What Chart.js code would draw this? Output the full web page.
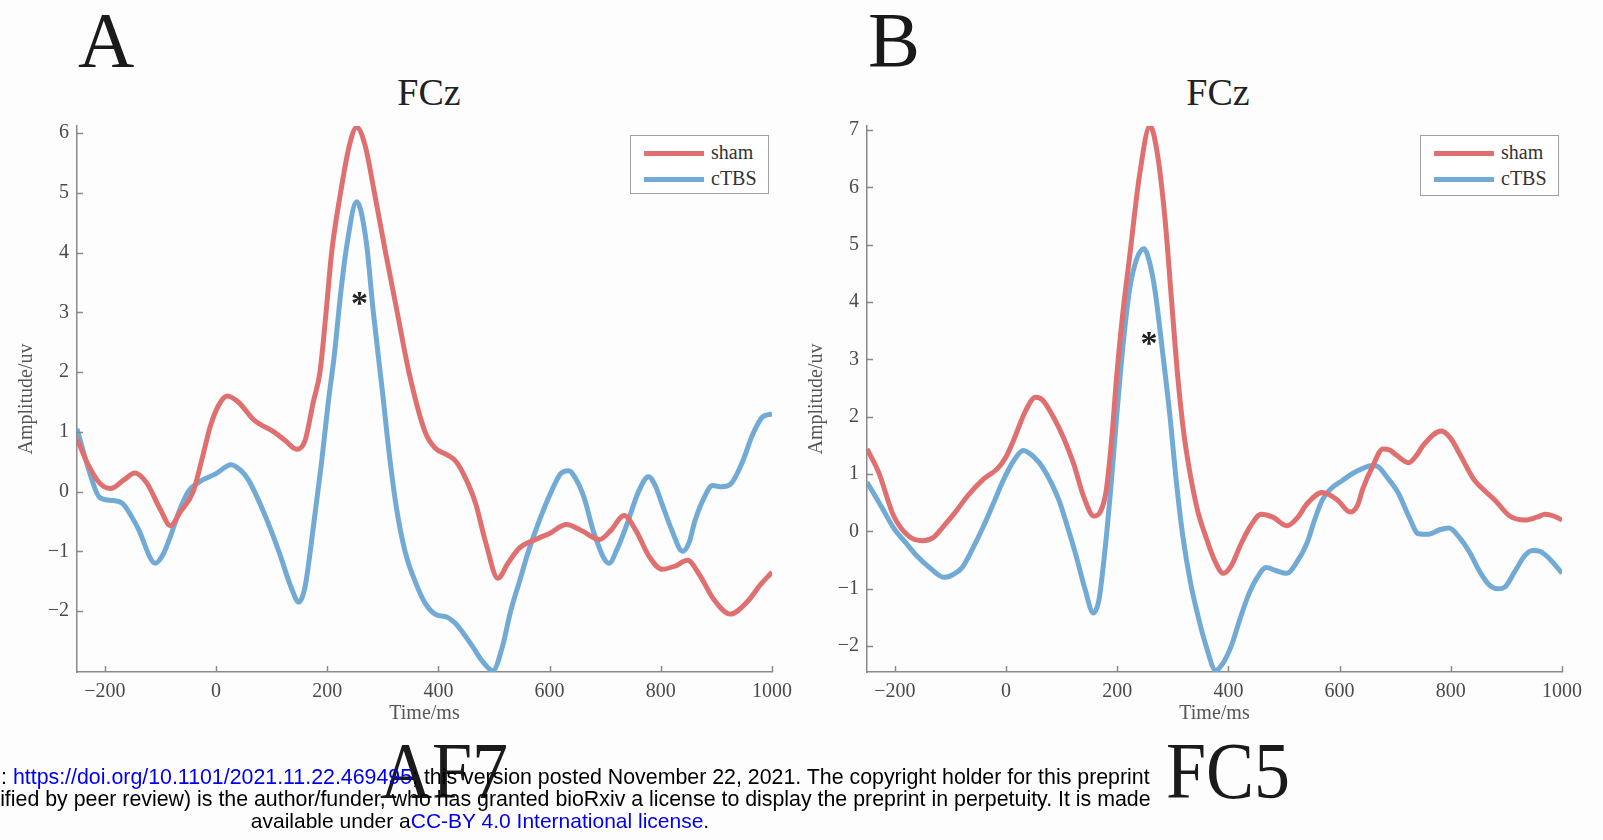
<!DOCTYPE html>
<html>
<head>
<meta charset="utf-8">
<script src="https://cdn.jsdelivr.net/npm/chart.js@4.4.0/dist/chart.umd.min.js"></script>
<style>
  body { margin: 0; width: 1603px; height: 840px; background: #fdfdfd; position: relative; overflow: hidden; font-family: "Liberation Serif", serif; }
  .panel { position: absolute; top: 100px; width: 800px; height: 642px; }
  .lbl { position: absolute; line-height: 1; color: #1a1a1a; white-space: nowrap; }
  .big { font-size: 78px; }
  .low { font-size: 80px; transform: translateX(-50%) scaleX(0.9); }
  .sub { font-size: 38px; transform: translateX(-50%); color: #222; }
  .legend { position: absolute; border: 1.5px solid #a0a0a0; background: #fff; box-sizing: border-box; }
  .legend div { position: absolute; left: 13px; height: 0; }
  .legend span.sw { position: absolute; left: 0; width: 60px; height: 5px; top: -2.5px; }
  .legend span.tx { position: absolute; left: 67px; top: -12px; font-size: 20px; line-height: 22px; color: #333; }
  .star { position: absolute; font-size: 34px; font-weight: bold; line-height: 1; color: #222; transform: translate(-50%, -30%); }
  .foot { position: absolute; left: -240px; width: 1440px; top: 766px; text-align: center; font-family: "Liberation Sans", Arial, sans-serif; font-size: 21px; line-height: 22px; color: #000; white-space: nowrap; }
  .foot .ancho { font-size: 21.35px; position: relative; left: 4px; }
  .foot a { color: #0000ee; text-decoration: none; }
</style>
</head>
<body>
<div class="lbl big" style="left:78px; top:1px;">A</div>
<div class="lbl big" style="left:868px; top:1px;">B</div>
<div class="lbl sub" style="left:429px; top:73px;">FCz</div>
<div class="lbl sub" style="left:1218px; top:73px;">FCz</div>

<div class="panel" id="wrapA" style="left:0px;"><canvas id="chartA" width="800" height="642"></canvas></div>
<div class="panel" id="wrapB" style="left:790px;"><canvas id="chartB" width="800" height="642"></canvas></div>

<div class="lbl low" style="left:444px; top:731px;">AF7</div>
<div class="lbl low" style="left:1228px; top:731px;">FC5</div>

<div class="foot">
  <span class="ancho">bioRxiv preprint doi: <a>https://doi.org/10.1101/2021.11.22.469495</a>; this version posted November 22, 2021. The copyright holder for this preprint</span><br>
  <span class="ancho">(which was not certified by peer review) is the author/funder, who has granted bioRxiv a license to display the preprint in perpetuity. It is made</span><br>
  available under a<a>CC-BY 4.0 International license</a>.
</div>

<script>
// tick labels
const xTicks = [-200, 0, 200, 400, 600, 800, 1000];
const yTicksA = [-2, -1, 0, 1, 2, 3, 4, 5, 6];
const yTicksB = [-2, -1, 0, 1, 2, 3, 4, 5, 6, 7];
const seriesNames = ['sham', 'cTBS'];

// Panel A (AF7) - sham
const timeShamA = [-250, -230, -210, -190, -165, -146, -125, -100, -82, -65, -41, -25, -10, 5, 20, 40, 68, 104, 125, 145,
  160, 175, 187, 198, 208, 224, 240, 253, 268, 285, 305, 326, 347, 376, 395, 415, 432, 450, 467, 485, 507, 525, 545,
  575, 600, 630, 657, 690, 710, 734, 755, 780, 802, 825, 848, 870, 895, 925, 955, 980, 1000];
const shamA = [0.88, 0.45, 0.15, 0.05, 0.2, 0.31, 0.15, -0.3, -0.57, -0.35, 0.0, 0.55, 1.1, 1.45, 1.6, 1.5, 1.2, 1.0, 0.85, 0.71,
  0.85, 1.5, 2.0, 3.0, 4.0, 5.0, 5.8, 6.1, 5.8, 5.0, 4.0, 3.0, 2.0, 1.0, 0.72, 0.62, 0.5, 0.2, -0.2, -0.85, -1.45, -1.2, -0.95,
  -0.8, -0.7, -0.55, -0.65, -0.8, -0.65, -0.4, -0.65, -1.1, -1.3, -1.25, -1.15, -1.4, -1.8, -2.05, -1.85, -1.55, -1.35];

// Panel A (AF7) - cTBS
const timeCtbsA = [-250, -230, -209, -185, -168, -141, -109, -95, -82, -65, -50, -32, 0, 27, 45, 58, 86, 113, 135, 149,
  160, 175, 190, 202, 213, 224, 235, 253, 270, 283, 299, 312, 325, 340, 358, 375, 394, 415, 430, 447, 462, 480, 498,
  515, 530, 546, 562, 583, 603, 620, 634, 648, 662, 680, 707, 722, 739, 760, 778, 790, 802, 820, 839, 851, 861, 878,
  893, 910, 925, 947, 965, 983, 1000];
const ctbsA = [1.05, 0.4, -0.1, -0.15, -0.2, -0.6, -1.2, -1.05, -0.75, -0.3, 0.0, 0.15, 0.3, 0.45, 0.35, 0.2, -0.35, -1.0, -1.6, -1.85,
  -1.6, -0.6, 0.5, 1.5, 2.3, 3.3, 4.1, 4.85, 4.2, 3.0, 1.7, 0.6, -0.3, -1.0, -1.5, -1.85, -2.05, -2.1, -2.2, -2.4, -2.6, -2.85, -3.0,
  -2.6, -2.0, -1.5, -1.0, -0.45, 0.0, 0.3, 0.35, 0.2, -0.1, -0.7, -1.2, -0.95, -0.55, 0.0, 0.25, 0.1, -0.2, -0.65, -1.0, -0.85, -0.5, -0.1,
  0.1, 0.08, 0.12, 0.5, 0.95, 1.25, 1.3];

// Panel B (FC5) - sham
const timeShamB = [-250, -229, -202, -175, -150, -130, -115, -90, -70, -42, -15, 0, 14, 35, 53, 65, 85, 105, 122, 140,
  158, 170, 180, 190, 199, 210, 222, 240, 259, 272, 286, 298, 309, 320, 332, 345, 359, 375, 391, 405, 423, 440, 459,
  480, 505, 525, 541, 569, 596, 619, 632, 642, 660, 678, 690, 701, 724, 740, 751, 783, 800, 815, 842, 860, 879, 906,
  933, 955, 970, 985, 1000];
const shamB = [1.44, 1.03, 0.27, -0.08, -0.16, -0.1, 0.06, 0.35, 0.61, 0.9, 1.1, 1.3, 1.6, 2.1, 2.34, 2.3, 2.0, 1.6, 1.17, 0.6,
  0.27, 0.35, 0.7, 1.6, 2.7, 3.8, 4.76, 6.2, 7.07, 6.6, 5.45, 4.0, 2.69, 1.7, 0.96, 0.35, -0.08, -0.5, -0.73, -0.6, -0.21, 0.1, 0.3,
  0.25, 0.1, 0.25, 0.48, 0.68, 0.55, 0.34, 0.45, 0.75, 1.15, 1.44, 1.42, 1.34, 1.2, 1.35, 1.51, 1.75, 1.62, 1.37, 0.9, 0.72, 0.55, 0.27,
  0.2, 0.25, 0.3, 0.27, 0.2];

// Panel B (FC5) - cTBS
const timeCtbsB = [-250, -225, -202, -180, -161, -135, -111, -95, -79, -60, -42, -20, -5, 15, 31, 50, 67, 95, 110, 126,
  142, 157, 167, 177, 188, 199, 210, 222, 235, 248, 258, 268, 282, 295, 306, 318, 332, 345, 360, 377, 390, 405, 420,
  436, 452, 468, 485, 505, 522, 541, 555, 569, 585, 605, 625, 642, 658, 669, 685, 705, 725, 742, 760, 780, 797, 815,
  833, 852, 870, 885, 897, 915, 933, 947, 961, 980, 1000];
const ctbsB = [0.86, 0.45, 0.06, -0.2, -0.42, -0.65, -0.8, -0.75, -0.63, -0.3, 0.06, 0.55, 0.89, 1.25, 1.41, 1.3, 1.1, 0.55, 0.1, -0.42,
  -1.0, -1.42, -1.2, -0.42, 0.7, 2.0, 3.2, 4.2, 4.75, 4.93, 4.7, 4.2, 3.1, 2.0, 0.9, -0.08, -0.9, -1.46, -2.0, -2.42, -2.3, -2.0, -1.55,
  -1.11, -0.8, -0.63, -0.68, -0.73, -0.55, -0.21, 0.2, 0.55, 0.75, 0.89, 1.02, 1.1, 1.15, 1.13, 0.95, 0.68, 0.25, -0.04, -0.05, 0.03, 0.06, -0.1,
  -0.35, -0.7, -0.94, -1.0, -0.97, -0.7, -0.42, -0.33, -0.35, -0.5, -0.73];

const colores = ['#e07070', '#72aad6'];
const serif = 'Liberation Serif';

function aPuntos(tiempos, valores) {
  return tiempos.map((t, i) => ({ x: t, y: valores[i] }));
}

// ticks hacia dentro, estilo MATLAB
const ticksInternos = {
  id: 'ticksInternos',
  afterDraw(chart) {
    const { ctx, chartArea, scales: { x, y } } = chart;
    ctx.save();
    ctx.strokeStyle = '#8a8a8a';
    ctx.lineWidth = 1.5;
    ctx.beginPath();
    x.ticks.forEach(t => {
      const px = Math.round(x.getPixelForValue(t.value)) + 0.5;
      ctx.moveTo(px, chartArea.bottom);
      ctx.lineTo(px, chartArea.bottom - 6);
    });
    y.ticks.forEach(t => {
      const py = Math.round(y.getPixelForValue(t.value)) + 0.5;
      ctx.moveTo(chartArea.left, py);
      ctx.lineTo(chartArea.left + 6, py);
    });
    ctx.stroke();
    ctx.restore();
  }
};

function crearLeyenda(wrap, left, top, w, h) {
  const box = document.createElement('div');
  box.className = 'legend';
  box.style.left = left + 'px';
  box.style.top = top + 'px';
  box.style.width = w + 'px';
  box.style.height = h + 'px';
  seriesNames.forEach((nombre, i) => {
    const fila = document.createElement('div');
    fila.style.top = (17 + i * 26) + 'px';
    fila.innerHTML = `<span class="sw" style="background:${colores[i]}"></span><span class="tx">${nombre}</span>`;
    box.appendChild(fila);
  });
  wrap.appendChild(box);
}

function crearPanel(id, wrapId, sham, ctbs, yMin, yMax, yTicks, estrella) {
  const wrap = document.getElementById(wrapId);
  const star = document.createElement('span');
  star.className = 'star';
  star.textContent = '*';
  wrap.appendChild(star);

  new Chart(document.getElementById(id), {
    type: 'line',
    data: {
      datasets: [sham, ctbs].map((d, i) => ({
        label: seriesNames[i],
        data: d,
        borderColor: colores[i],
        borderWidth: 5,
        pointRadius: 0,
        fill: false,
        cubicInterpolationMode: 'monotone'
      }))
    },
    options: {
      responsive: false,
      animation: false,
      devicePixelRatio: 1,
      layout: { padding: { top: 26, right: 20, left: 0, bottom: 0 } },
      plugins: { legend: { display: false }, tooltip: { enabled: false } },
      scales: {
        x: {
          type: 'linear',
          min: -250,
          max: 1000,
          afterBuildTicks: s => { s.ticks = xTicks.map(v => ({ value: v })); },
          afterFit: s => { s.height = 70; },
          grid: { display: false, drawTicks: false },
          border: { display: true, color: '#8a8a8a', width: 1.5 },
          ticks: {
            padding: 8, color: '#4a4a4a', autoSkip: false, maxRotation: 0,
            font: { family: serif, size: 20 },
            callback: v => String(v).replace('-', '\u2212')
          },
          title: { display: true, text: 'Time/ms', color: '#555', font: { family: serif, size: 20 }, padding: { top: 0, bottom: 16 } }
        },
        y: {
          min: yMin,
          max: yMax,
          afterBuildTicks: s => { s.ticks = yTicks.map(v => ({ value: v })); },
          afterFit: s => { s.width = 77; },
          grid: { display: false, drawTicks: false },
          border: { display: true, color: '#8a8a8a', width: 1.5 },
          ticks: {
            padding: 8, color: '#4a4a4a',
            font: { family: serif, size: 20 },
            callback: v => String(v).replace('-', '\u2212')
          },
          title: { display: true, text: 'Amplitude/uv', color: '#555', font: { family: serif, size: 20 }, padding: { top: 15, bottom: 0 } }
        }
      }
    },
    plugins: [ticksInternos, {
      id: 'estrella',
      afterDraw(chart) {
        star.style.left = chart.scales.x.getPixelForValue(estrella[0]) + 'px';
        star.style.top = chart.scales.y.getPixelForValue(estrella[1]) + 'px';
      }
    }]
  });
}

crearPanel('chartA', 'wrapA', aPuntos(timeShamA, shamA), aPuntos(timeCtbsA, ctbsA), -3.02, 6.12, yTicksA, [258, 3.27]);
crearPanel('chartB', 'wrapB', aPuntos(timeShamB, shamB), aPuntos(timeCtbsB, ctbsB), -2.45, 7.07, yTicksB, [257, 3.4]);
crearLeyenda(document.getElementById('wrapA'), 630, 35, 139, 59);
crearLeyenda(document.getElementById('wrapB'), 630, 35, 139, 61);
</script>
</body>
</html>
